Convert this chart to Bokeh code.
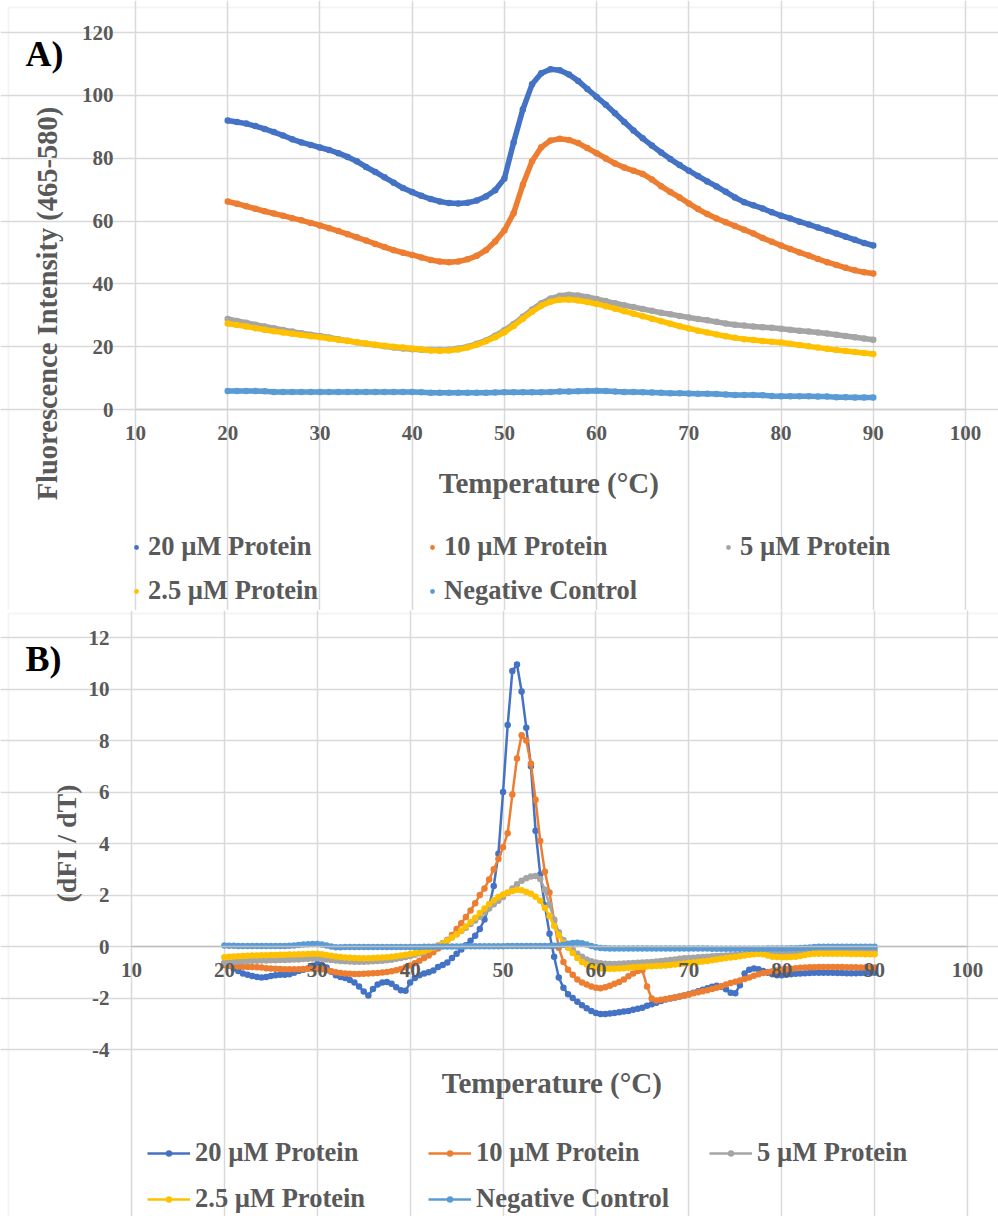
from math import pi
from bokeh.plotting import figure
from bokeh.models import (Legend, LegendItem, Label, BoxAnnotation, FixedTicker,
                          LinearAxis, Grid, Range1d)
from bokeh.layouts import column
from bokeh.embed import file_html
from bokeh.resources import INLINE

# ---------------- data ----------------
series_labels = ["20 \u00b5M Protein", "10 \u00b5M Protein", "5 \u00b5M Protein",
                 "2.5 \u00b5M Protein", "Negative Control"]

x_ticks = [10, 20, 30, 40, 50, 60, 70, 80, 90, 100]
a_y_ticks = [0, 20, 40, 60, 80, 100, 120]
b_y_ticks = [-4, -2, 0, 2, 4, 6, 8, 10, 12]
b_y_tick_labels = ["-4", "-2", "0", "2", "4", "6", "8", "10", "12"]

# Panel A: fluorescence intensity, one reading per degree 20..90
temp_a = list(range(20, 91))
a_20uM = [92.0, 91.5, 91.0, 90.2, 89.3, 88.3, 87.2, 86.0, 85.0, 84.2,
          83.4, 82.6, 81.6, 80.4, 79.0, 77.2, 75.6, 73.9, 72.2, 70.5,
          69.2, 68.0, 67.0, 66.2, 65.7, 65.6, 65.8, 66.5, 67.8, 69.8,
          73.5, 85.0, 95.5, 103.5, 107.0, 108.3, 108.0, 106.6, 104.6, 102.0,
          99.5, 97.0, 94.3, 91.5, 88.8, 86.3, 84.0, 81.8, 79.7, 77.8,
          76.0, 74.3, 72.6, 71.0, 69.3, 67.5, 66.0, 65.0, 64.0, 62.8,
          61.7, 60.8, 59.8, 58.9, 57.9, 57.0, 56.0, 55.0, 54.0, 53.0,
          52.2]
a_10uM = [66.2, 65.5, 64.7, 63.9, 63.1, 62.4, 61.7, 60.9, 60.2, 59.4,
          58.6, 57.7, 56.8, 55.8, 54.8, 53.8, 52.7, 51.7, 50.7, 49.9,
          49.2, 48.4, 47.6, 47.1, 46.9, 47.1, 47.8, 48.9, 50.7, 53.5,
          57.0, 62.5, 71.5, 79.0, 83.5, 85.6, 86.2, 85.8, 84.8, 83.2,
          81.6, 79.9, 78.3, 77.0, 76.0, 75.0, 73.2, 71.1, 69.2, 67.5,
          65.6, 63.8, 62.2, 60.8, 59.6, 58.4, 57.2, 56.0, 54.6, 53.4,
          52.2, 51.1, 50.0, 49.0, 47.9, 46.9, 46.0, 45.1, 44.3, 43.7,
          43.3]
a_5uM = [28.8, 28.2, 27.6, 27.0, 26.4, 25.9, 25.3, 24.8, 24.3, 23.8,
         23.4, 22.9, 22.4, 21.9, 21.4, 20.9, 20.5, 20.1, 19.7, 19.4,
         19.2, 19.0, 18.9, 18.9, 19.0, 19.4, 20.0, 20.9, 22.0, 23.5,
         25.2, 27.2, 29.5, 31.8, 33.8, 35.3, 36.2, 36.5, 36.3, 35.8,
         35.2, 34.5, 33.8, 33.2, 32.6, 32.0, 31.4, 30.8, 30.3, 29.8,
         29.3, 28.8, 28.4, 27.9, 27.4, 27.0, 26.7, 26.4, 26.2, 26.0,
         25.7, 25.4, 25.1, 24.8, 24.5, 24.2, 23.8, 23.4, 23.0, 22.6,
         22.2]
a_2_5uM = [27.4, 26.9, 26.4, 25.9, 25.4, 24.9, 24.5, 24.1, 23.7, 23.3,
           23.0, 22.6, 22.2, 21.8, 21.4, 21.0, 20.6, 20.3, 20.0, 19.7,
           19.4, 19.1, 18.8, 18.7, 18.8, 19.1, 19.7, 20.6, 21.7, 23.0,
           24.6, 26.6, 28.9, 31.1, 33.0, 34.3, 34.9, 35.0, 34.7, 34.2,
           33.6, 32.9, 32.1, 31.3, 30.5, 29.7, 28.9, 28.1, 27.3, 26.5,
           25.8, 25.1, 24.5, 23.9, 23.3, 22.8, 22.4, 22.1, 21.8, 21.6,
           21.3, 20.9, 20.5, 20.1, 19.7, 19.3, 18.9, 18.6, 18.3, 18.0,
           17.7]
a_neg = [5.9, 5.9, 5.9, 5.9, 5.8, 5.6, 5.6, 5.6, 5.6, 5.6,
         5.6, 5.6, 5.6, 5.6, 5.6, 5.6, 5.6, 5.6, 5.6, 5.6,
         5.6, 5.5, 5.3, 5.3, 5.3, 5.3, 5.3, 5.3, 5.3, 5.4,
         5.5, 5.5, 5.5, 5.5, 5.5, 5.6, 5.7, 5.7, 5.8, 5.9,
         6.0, 5.9, 5.7, 5.6, 5.6, 5.5, 5.4, 5.3, 5.2, 5.2,
         5.1, 5.0, 5.0, 4.9, 4.8, 4.6, 4.6, 4.6, 4.5, 4.3,
         4.2, 4.2, 4.2, 4.2, 4.1, 4.1, 3.9, 3.9, 3.8, 3.8,
         3.8]

# Panel B: derivative dFI/dT, one reading per half degree 20..90
temp_b = [t / 2 for t in range(40, 181)]
b_20uM = [-0.65, -0.75, -0.85, -0.95, -1.05, -1.10, -1.15, -1.18, -1.20, -1.18,
          -1.15, -1.12, -1.10, -1.10, -1.08, -1.02, -0.95, -0.90, -0.85, -0.75,
          -0.68, -0.72, -0.82, -0.98, -1.12, -1.18, -1.22, -1.30, -1.40, -1.55,
          -1.75, -1.90, -1.65, -1.48, -1.40, -1.38, -1.45, -1.58, -1.70, -1.72,
          -1.40, -1.22, -1.12, -1.05, -1.00, -0.93, -0.80, -0.72, -0.62, -0.45,
          -0.28, -0.12, 0.05, 0.22, 0.42, 0.68, 1.05, 1.55, 2.35, 3.60,
          6.00, 8.60, 10.70, 10.95, 9.90, 8.50, 7.00, 4.50, 2.80, 1.60,
          0.50, -0.40, -1.20, -1.60, -1.85, -2.00, -2.15, -2.28, -2.40, -2.50,
          -2.58, -2.62, -2.62, -2.60, -2.58, -2.55, -2.52, -2.50, -2.46, -2.42,
          -2.38, -2.30, -2.24, -2.18, -2.12, -2.06, -2.02, -1.98, -1.94, -1.90,
          -1.85, -1.80, -1.74, -1.68, -1.62, -1.56, -1.52, -1.56, -1.66, -1.80,
          -1.82, -1.50, -1.05, -0.90, -0.85, -0.88, -0.95, -1.02, -1.08, -1.12,
          -1.12, -1.10, -1.08, -1.06, -1.05, -1.04, -1.03, -1.02, -1.02, -1.02,
          -1.02, -1.02, -1.03, -1.03, -1.04, -1.04, -1.04, -1.03, -1.03, -1.02,
          -1.02]
b_10uM = [-0.72, -0.74, -0.76, -0.78, -0.79, -0.80, -0.80, -0.81, -0.82, -0.84,
          -0.85, -0.86, -0.87, -0.88, -0.88, -0.88, -0.88, -0.87, -0.86, -0.86,
          -0.86, -0.88, -0.92, -0.96, -1.00, -1.03, -1.05, -1.06, -1.07, -1.07,
          -1.06, -1.05, -1.04, -1.03, -1.01, -0.99, -0.96, -0.92, -0.87, -0.81,
          -0.74, -0.65, -0.55, -0.45, -0.35, -0.22, -0.08, 0.08, 0.25, 0.45,
          0.68, 0.90, 1.15, 1.40, 1.68, 2.00, 2.25, 2.60, 3.00, 3.40,
          3.85, 4.40, 5.90, 7.30, 8.20, 8.00, 7.10, 5.70, 4.10, 2.90,
          2.10, 1.00, -0.05, -0.60, -0.90, -1.10, -1.28, -1.40, -1.48, -1.55,
          -1.60, -1.62, -1.58, -1.52, -1.45, -1.38, -1.28, -1.16, -1.05, -0.95,
          -0.92, -1.55, -2.02, -2.10, -2.07, -2.04, -2.01, -1.98, -1.94, -1.90,
          -1.86, -1.82, -1.78, -1.74, -1.70, -1.65, -1.60, -1.54, -1.48, -1.42,
          -1.37, -1.32, -1.26, -1.20, -1.14, -1.08, -1.03, -0.99, -0.96, -0.93,
          -0.90, -0.88, -0.86, -0.84, -0.83, -0.82, -0.81, -0.81, -0.80, -0.80,
          -0.80, -0.80, -0.80, -0.80, -0.81, -0.81, -0.81, -0.82, -0.82, -0.82,
          -0.82]
b_5uM = [-0.65, -0.62, -0.60, -0.58, -0.57, -0.56, -0.55, -0.55, -0.54, -0.54,
         -0.53, -0.53, -0.52, -0.52, -0.51, -0.50, -0.50, -0.49, -0.48, -0.47,
         -0.46, -0.48, -0.50, -0.52, -0.54, -0.56, -0.57, -0.58, -0.59, -0.59,
         -0.59, -0.58, -0.57, -0.56, -0.55, -0.53, -0.51, -0.48, -0.45, -0.41,
         -0.37, -0.32, -0.26, -0.20, -0.13, -0.05, 0.04, 0.14, 0.25, 0.36,
         0.48, 0.60, 0.73, 0.87, 1.01, 1.16, 1.32, 1.48, 1.64, 1.78,
         1.92, 2.08, 2.25, 2.42, 2.55, 2.65, 2.72, 2.74, 2.62, 2.20,
         1.62, 1.05, 0.55, 0.25, 0.05, -0.12, -0.28, -0.40, -0.50, -0.57,
         -0.62, -0.65, -0.67, -0.68, -0.68, -0.67, -0.66, -0.65, -0.64, -0.63,
         -0.62, -0.61, -0.60, -0.58, -0.56, -0.54, -0.52, -0.50, -0.48, -0.46,
         -0.45, -0.44, -0.42, -0.41, -0.40, -0.38, -0.37, -0.36, -0.35, -0.34,
         -0.33, -0.31, -0.30, -0.29, -0.28, -0.27, -0.26, -0.25, -0.24, -0.23,
         -0.22, -0.21, -0.21, -0.20, -0.20, -0.19, -0.19, -0.18, -0.18, -0.18,
         -0.17, -0.17, -0.17, -0.16, -0.16, -0.16, -0.16, -0.15, -0.15, -0.15,
         -0.15]
b_2_5uM = [-0.42, -0.40, -0.39, -0.38, -0.37, -0.36, -0.35, -0.35, -0.34, -0.34,
           -0.33, -0.33, -0.32, -0.32, -0.31, -0.31, -0.30, -0.30, -0.29, -0.28,
           -0.28, -0.30, -0.33, -0.36, -0.39, -0.41, -0.43, -0.44, -0.45, -0.46,
           -0.46, -0.46, -0.45, -0.44, -0.43, -0.42, -0.40, -0.38, -0.35, -0.32,
           -0.29, -0.26, -0.22, -0.17, -0.12, -0.05, 0.03, 0.12, 0.22, 0.35,
           0.48, 0.62, 0.78, 0.95, 1.12, 1.30, 1.48, 1.65, 1.80, 1.92,
           2.02, 2.10, 2.16, 2.20, 2.18, 2.12, 2.05, 1.93, 1.78, 1.50,
           1.18, 0.80, 0.45, 0.15, -0.05, -0.25, -0.45, -0.60, -0.70, -0.77,
           -0.82, -0.85, -0.86, -0.86, -0.86, -0.85, -0.84, -0.83, -0.81, -0.80,
           -0.79, -0.78, -0.77, -0.76, -0.75, -0.74, -0.72, -0.70, -0.68, -0.66,
           -0.64, -0.62, -0.60, -0.58, -0.56, -0.53, -0.50, -0.48, -0.45, -0.43,
           -0.41, -0.38, -0.35, -0.32, -0.30, -0.28, -0.30, -0.35, -0.40, -0.41,
           -0.42, -0.42, -0.41, -0.40, -0.37, -0.33, -0.30, -0.28, -0.28, -0.28,
           -0.28, -0.28, -0.28, -0.28, -0.28, -0.29, -0.29, -0.29, -0.30, -0.30,
           -0.30]
b_neg = [0.04, 0.03, 0.03, 0.02, 0.02, 0.02, 0.02, 0.02, 0.02, 0.02,
         0.02, 0.02, 0.02, 0.02, 0.03, 0.04, 0.06, 0.08, 0.09, 0.10,
         0.10, 0.08, 0.04, 0.00, -0.03, -0.03, -0.02, -0.02, -0.02, -0.02,
         -0.02, -0.02, -0.02, -0.02, -0.02, -0.02, -0.02, -0.02, -0.02, -0.02,
         -0.02, -0.02, -0.02, -0.01, -0.01, -0.01, 0.00, 0.00, 0.00, 0.00,
         0.00, 0.00, 0.01, 0.01, 0.01, 0.01, 0.01, 0.01, 0.01, 0.01,
         0.01, 0.02, 0.02, 0.02, 0.02, 0.02, 0.02, 0.02, 0.02, 0.02,
         0.02, 0.03, 0.04, 0.07, 0.11, 0.14, 0.15, 0.13, 0.08, 0.02,
         -0.03, -0.06, -0.07, -0.08, -0.08, -0.08, -0.08, -0.08, -0.08, -0.08,
         -0.08, -0.08, -0.08, -0.08, -0.08, -0.08, -0.08, -0.08, -0.08, -0.08,
         -0.08, -0.08, -0.08, -0.08, -0.08, -0.09, -0.09, -0.09, -0.09, -0.09,
         -0.09, -0.09, -0.09, -0.09, -0.09, -0.09, -0.09, -0.08, -0.08, -0.08,
         -0.08, -0.08, -0.07, -0.07, -0.06, -0.05, -0.04, -0.02, -0.01, -0.01,
         -0.01, -0.01, -0.01, -0.01, -0.01, -0.01, -0.01, -0.01, -0.01, -0.01,
         -0.01]

# ---------------- styles ----------------
COLORS = ["#4472C4", "#ED7D31", "#A5A5A5", "#FFC000", "#5B9BD5"]
GRID = "#d9d9d9"
TXT = "#595959"
FONT = "'Liberation Serif', 'Times New Roman', serif"
W = 998


def x_range_for(px0, px1, v0, v1, width):
    s = (px1 - px0) / (v1 - v0)
    return Range1d(v0 - px0 / s, v1 + (width - px1) / s)


def y_range_for(py_top, py_bot, v_top, v_bot, height):
    s = (py_bot - py_top) / (v_top - v_bot)
    return Range1d(v_bot - (height - py_bot) / s, v_top + py_top / s)


def new_panel(height, xr, yr):
    p = figure(width=W, height=height, x_range=xr, y_range=yr,
               x_axis_location=None, y_axis_location=None, min_border=0,
               output_backend="svg", toolbar_location=None)
    p.outline_line_color = None
    p.background_fill_color = "white"
    p.border_fill_color = "white"
    return p


def add_grid_axes(p, xt, yt, xb, yb, x_axis_color, y_overrides=None):
    p.add_layout(Grid(dimension=0, ticker=FixedTicker(ticks=xt), bounds=yb,
                      grid_line_color=GRID, grid_line_width=1.5))
    p.add_layout(Grid(dimension=1, ticker=FixedTicker(ticks=yt), bounds=xb,
                      grid_line_color=GRID, grid_line_width=1.5))
    xa = LinearAxis(ticker=FixedTicker(ticks=xt), fixed_location=0, bounds=xb)
    ya = LinearAxis(ticker=FixedTicker(ticks=yt), fixed_location=xb[0], bounds=yb)
    for ax in (xa, ya):
        ax.major_tick_line_color = None
        ax.minor_tick_line_color = None
        ax.major_tick_in = 0
        ax.major_tick_out = 0
        ax.major_label_text_font = FONT
        ax.major_label_text_font_style = "bold"
        ax.major_label_text_color = TXT
        ax.major_label_text_font_size = "21px"
    xa.axis_line_color = x_axis_color
    xa.axis_line_width = 1.5
    xa.major_label_standoff = 16
    ya.axis_line_color = None
    ya.major_label_standoff = 22
    if y_overrides:
        ya.major_label_overrides = y_overrides
    p.add_layout(xa, "below")
    p.add_layout(ya, "left")


def canvas_label(p, text, x, y, size, color=TXT, angle=0.0, align="center",
                 baseline="middle"):
    p.add_layout(Label(x=x, y=y, x_units="canvas", y_units="canvas", text=text,
                       angle=angle, text_align=align, text_baseline=baseline,
                       text_font=FONT, text_font_style="bold",
                       text_font_size=f"{size}px", text_color=color))


def make_legend(items, glyph_w, glyph_h, standoff, label_w, spacing, loc):
    return Legend(items=items, orientation="horizontal", ncols=3, location=loc,
                  glyph_width=glyph_w, glyph_height=glyph_h,
                  label_standoff=standoff, label_width=label_w, label_height=20,
                  spacing=spacing, padding=0, margin=0,
                  border_line_color=None, background_fill_alpha=0,
                  label_text_font=FONT, label_text_font_style="bold",
                  label_text_color=TXT, label_text_font_size="26.5px")


def frame_box(p, top):
    p.add_layout(BoxAnnotation(left=8, right=W + 400, top=top, bottom=2000,
                               left_units="canvas", right_units="canvas",
                               top_units="canvas", bottom_units="canvas",
                               fill_alpha=0, line_color=GRID, line_width=2))


# ---------------- panel A ----------------
HA = 610
pA = new_panel(HA, x_range_for(135, 965, 10, 100, W),
               y_range_for(32, 409, 120, 0, HA))
add_grid_axes(pA, x_ticks, a_y_ticks, (10, 100), (0, 120), "#cfcfcf")

a_series = [a_20uM, a_10uM, a_5uM, a_2_5uM, a_neg]
itemsA = []
for lab, ys, col in zip(series_labels, a_series, COLORS):
    pA.line(temp_a, ys, line_color=col, line_width=5.5,
            line_join="round", line_cap="round")
    s = pA.scatter(temp_a, ys, size=6.5, fill_color=col, line_color=None)
    itemsA.append(LegendItem(label=lab, renderers=[s]))

pA.add_layout(make_legend(itemsA, 12, 20, 6, 265, 13, (130, 4)))
canvas_label(pA, "A)", 25, 53, 36, color="#000000", align="left",
             baseline="alphabetic")
canvas_label(pA, "Fluorescence Intensity (465-580)", 47, 303, 28.5, angle=pi / 2)
canvas_label(pA, "Temperature  (\u00b0C)", 552, 482, 29)
frame_box(pA, 7)

# ---------------- panel B ----------------
HB = 606
pB = new_panel(HB, x_range_for(131, 967, 10, 100, W),
               y_range_for(27, 439, 12, -4, HB))
add_grid_axes(pB, x_ticks, b_y_ticks, (10, 100), (-4, 12), "#bfbfbf",
              dict(zip(b_y_ticks, b_y_tick_labels)))

b_series = [b_20uM, b_10uM, b_5uM, b_2_5uM, b_neg]
itemsB = []
for lab, ys, col in zip(series_labels, b_series, COLORS):
    l = pB.line(temp_b, ys, line_color=col, line_width=2.5, line_join="round")
    s = pB.scatter(temp_b, ys, size=6.5, fill_color=col, line_color=None)
    itemsB.append(LegendItem(label=lab, renderers=[l, s]))

pB.add_layout(make_legend(itemsB, 43, 16, 5, 218, 15, (147, 2)))
canvas_label(pB, "B)", 25, 48, 36, color="#000000", align="left",
             baseline="alphabetic")
canvas_label(pB, "(dFI / dT)", 66, 233, 28, angle=pi / 2)
canvas_label(pB, "Temperature  (\u00b0C)", 555, 472, 29)
frame_box(pB, 3)

layout = column(pA, pB, spacing=0)
open("out.html", "w").write(file_html(layout, INLINE))
